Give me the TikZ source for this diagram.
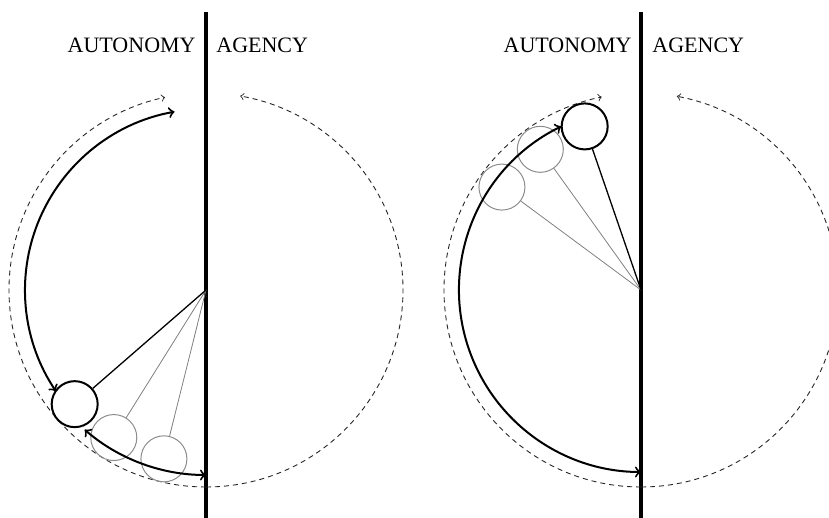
\documentclass[tikz,border=0pt]{standalone}
\usepackage{fontspec}
\setmainfont{Liberation Serif}
\usetikzlibrary{positioning}

\begin{document}
\begin{tikzpicture}[x=0.5pt,y=0.5pt,
  divider/.style={line width=2pt},
  sidetext/.style={font=\fontsize{11}{13}\selectfont,inner sep=0pt},
  orbit/.style={dash pattern=on 2.5pt off 2pt,line width=0.45pt,black!85,->},
  swing/.style={line width=1pt,<->},
  bob/.style={circle,draw,line width=1pt,minimum size=23pt,inner sep=0pt},
  ghost/.style={circle,draw=black!45,line width=0.5pt,minimum size=23pt,inner sep=0pt},
  rod/.style={line width=0.65pt},
  ghostrod/.style={black!50,line width=0.4pt},
]
\clip (0,0) rectangle (829,518);

% pivots on the two dividing lines
\coordinate (p1) at (206,228);
\coordinate (p2) at (641,228);

% dividing lines and their labels
\draw[divider] (206,0) -- (206,506);
\draw[divider] (641,0) -- (641,506);
\node[sidetext,anchor=base east] (auto1) at (196,465) {AUTONOMY};
\node[sidetext,anchor=base west] (agen1) at (216,465) {AGENCY};
\node[sidetext,anchor=base east] (auto2) at (632,465) {AUTONOMY};
\node[sidetext,anchor=base west] (agen2) at (652,465) {AGENCY};

% --- left: swinging back and forth
\draw[orbit] ([shift={(270:197)}]p1) arc[start angle=270,end angle=102,radius=197];
\draw[orbit] ([shift={(270:197)}]p1) arc[start angle=-90,end angle=80,radius=197];
\foreach \a/\n in {256/g1,238/g2}{
  \node[ghost] (\n) at ([shift={(\a:174)}]p1) {};
  \draw[ghostrod] (p1) -- (\n);
}
\node[bob] (b1) at ([shift={(221:174)}]p1) {};
\draw[rod] (p1) -- (b1);
\draw[swing] ([shift={(100:181)}]p1) arc[start angle=100,end angle=214,radius=181];
\draw[swing] ([shift={(229:185)}]p1) arc[start angle=229,end angle=270,radius=185];

% --- right: swung up the autonomy side
\draw[orbit] ([shift={(270:197)}]p2) arc[start angle=270,end angle=101.5,radius=197];
\draw[orbit] ([shift={(270:197)}]p2) arc[start angle=-90,end angle=79.5,radius=197];
\foreach \a/\n in {143.5/g3,125.6/g4}{
  \node[ghost] (\n) at ([shift={(\a:173)}]p2) {};
  \draw[ghostrod] (p2) -- (\n);
}
\node[bob] (b2) at ([shift={(109:173)}]p2) {};
\draw[rod] (p2) -- (b2);
\draw[swing] ([shift={(116:182)}]p2) arc[start angle=116,end angle=270,radius=182];
\end{tikzpicture}
\end{document}
